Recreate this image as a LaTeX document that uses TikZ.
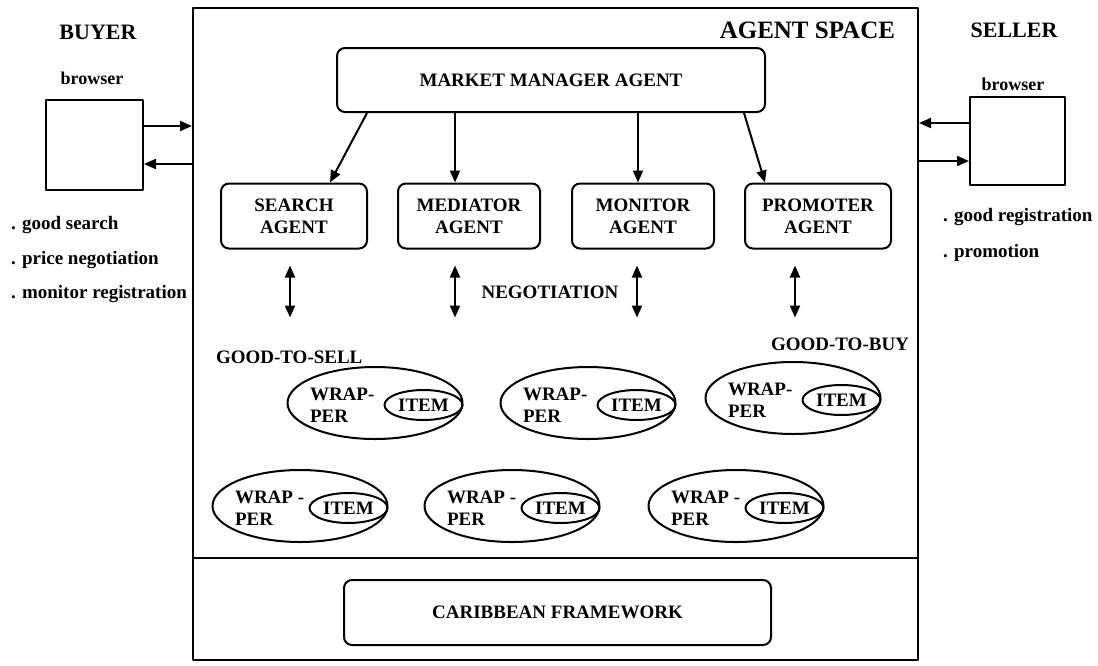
\documentclass[tikz,border=0pt]{standalone}
\usepackage{fontspec}
\setmainfont{Liberation Serif}
\usetikzlibrary{arrows.meta,shapes.geometric}

\newcommand\lbl{\fontsize{19}{22}\selectfont\bfseries}
\tikzset{
  agentbox/.style={draw, rounded corners=8pt, minimum width=146pt, minimum height=65pt, align=center, font=\lbl, inner sep=0pt},
  wrapbox/.style={draw, ellipse, minimum width=175pt, minimum height=72pt, inner sep=0pt},
  itembox/.style={draw, ellipse, minimum width=78pt, minimum height=30pt, inner sep=0pt, font=\lbl},
  sidebox/.style={draw, minimum width=97pt, minimum height=90pt, inner sep=0pt},
  conn/.style={-{Triangle[length=12pt,width=10pt]}},
  dconn/.style={{Triangle[length=12pt,width=10pt]}-{Triangle[length=12pt,width=10pt]}},
  plain/.style={font=\lbl, inner sep=0pt}
}
% wrapper with its item: name, x, y, first line
\newcommand\wrapper[4]{%
  \node[wrapbox] (#1) at (#2,#3) {};
  \node[itembox, anchor=east] (#1item) at ([yshift=-2pt]#1.east) {ITEM};
  \node[plain, align=left, anchor=west] (#1text) at ([xshift=-66pt,yshift=-2pt]#1.center) {#4\\PER};
}

\begin{document}
\begin{tikzpicture}[x=1pt, y=-1pt, line width=2pt, line join=round]
\useasboundingbox (0,0) rectangle (1098,665);

% agent space
\node[draw, minimum width=725pt, minimum height=652pt, inner sep=0pt] (space) at (555.5,334) {};
\coordinate (split) at (0,558);
\draw (space.west |- split) -- (space.east |- split);
\node[plain, font=\fontsize{25}{30}\selectfont\bfseries, anchor=east] (title) at (896,30) {AGENT SPACE};

% buyer side
\node[plain, font=\fontsize{22}{26}\selectfont\bfseries] (buyerlbl) at (98,32) {BUYER};
\node[plain, font=\fontsize{18}{22}\selectfont\bfseries] (bbrowser) at (92,78) {browser};
\node[sidebox] (buyer) at (94.5,144.5) {};
\coordinate (bout) at ([yshift=18.5pt]buyer.east);
\coordinate (bin) at ([yshift=-19.5pt]buyer.east);
\draw[conn] (bout) -- (bout -| space.west);
\draw[conn] (bin -| space.west) -- (bin);
\node[plain, anchor=west] (b1) at (10,225) {. good search};
\node[plain, anchor=west] (b2) at (10,260) {. price negotiation};
\node[plain, anchor=west] (b3) at (10,294) {. monitor registration};

% seller side
\node[plain, font=\fontsize{22}{26}\selectfont\bfseries] (sellerlbl) at (1014,30) {SELLER};
\node[plain, font=\fontsize{18}{22}\selectfont\bfseries] (sbrowser) at (1013,84) {browser};
\node[sidebox, minimum width=95pt, minimum height=88pt] (seller) at (1017.5,141) {};
\coordinate (sout) at ([yshift=18pt]seller.west);
\coordinate (sin) at ([yshift=-20pt]seller.west);
\draw[conn] (sout) -- (sout -| space.east);
\draw[conn] (sin -| space.east) -- (sin);
\node[plain, anchor=west] (s1) at (942,217) {. good registration};
\node[plain, anchor=west] (s2) at (942,253) {. promotion};

% agents
\node[agentbox, minimum width=428pt, minimum height=64pt] (mm) at (551,80) {MARKET MANAGER AGENT};
\node[agentbox] (search) at (294,216) {SEARCH\\AGENT};
\node[agentbox, minimum width=142pt] (mediator) at (469,216) {MEDIATOR\\AGENT};
\node[agentbox, minimum width=142pt] (monitor) at (643,216) {MONITOR\\AGENT};
\node[agentbox] (promoter) at (818,216) {PROMOTER\\AGENT};

\draw[conn] ([xshift=31pt]mm.south west) -- ([xshift=36pt]search.north);
\coordinate (medtop) at ([xshift=-14pt]mediator.north);
\draw[conn] (mm.south -| medtop) -- (medtop);
\coordinate (montop) at ([xshift=-5pt]monitor.north);
\draw[conn] (mm.south -| montop) -- (montop);
\draw[conn] ([xshift=-22pt]mm.south east) -- ([xshift=-53pt]promoter.north);

\foreach \a/\dx in {search/-4, mediator/-14, monitor/-6, promoter/-23} {
  \coordinate (\a-up) at ([xshift=\dx pt, yshift=-16pt]\a.south);
  \coordinate (\a-dn) at ([xshift=\dx pt, yshift=-68pt]\a.south);
  \draw[dconn] (\a-up) -- (\a-dn);
}
\node[plain] (nego) at (550,292) {NEGOTIATION};

% goods
\node[plain, anchor=west] (sell) at (215,357) {GOOD-TO-SELL};
\node[plain, anchor=west] (buy) at (770,344) {GOOD-TO-BUY};
\wrapper{w1}{375}{403}{WRAP-}
\wrapper{w2}{588}{403}{WRAP-}
\wrapper{w3}{793}{398}{WRAP-}
\wrapper{w4}{300}{506}{WRAP -}
\wrapper{w5}{512}{506}{WRAP -}
\wrapper{w6}{736}{506}{WRAP -}

% framework
\node[agentbox, minimum width=427pt, minimum height=65pt] (frame) at (557.5,612.5) {CARIBBEAN FRAMEWORK};
\end{tikzpicture}
\end{document}
